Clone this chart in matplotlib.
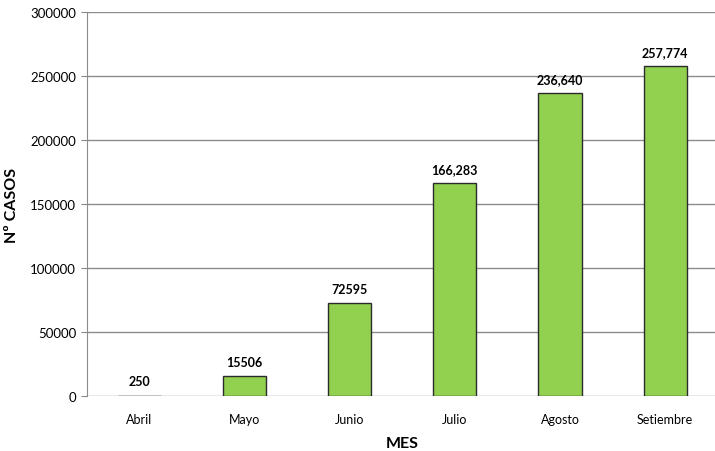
import matplotlib.pyplot as plt

meses = ['Abril', 'Mayo', 'Junio', 'Julio', 'Agosto', 'Setiembre']
casos = [250, 15506, 72595, 166283, 236640, 257774]
etiquetas = ['250', '15506', '72595', '166,283', '236,640', '257,774']

plt.rcParams['font.family'] = ['Lato', 'DejaVu Sans']

fig = plt.figure(figsize=(7.15, 4.52), dpi=100)
ax = fig.add_axes([0.121, 0.122, 0.883, 0.849])

x = range(len(meses))
ax.bar(x, casos, width=0.41, color='#92D050', edgecolor='#2b2b2b', linewidth=1, zorder=3)
for i, (v, t) in enumerate(zip(casos, etiquetas)):
    ax.text(i, v + 6500, t, ha='center', va='bottom', fontsize=9, fontweight='bold', color='black')

ax.set_xlim(-0.5, len(meses) - 0.5)
ax.set_ylim(0, 300000)
ax.set_yticks(range(0, 300001, 50000))
ax.set_xticks(list(x))
ax.set_xticklabels(meses, fontsize=9)
ax.tick_params(axis='y', labelsize=9.5, length=4, color='#888888')
ax.tick_params(axis='x', length=0, pad=12)
ax.yaxis.grid(True, color='#8c8c8c', linewidth=1, zorder=0)
for s in ['top', 'right', 'bottom']:
    ax.spines[s].set_visible(False)
ax.spines['left'].set_color('#8c8c8c')

ax.set_xlabel('MES', fontsize=11.5, fontweight='bold', labelpad=8)
ax.set_ylabel('Nº CASOS', fontsize=11.5, fontweight='bold', labelpad=8)

plt.savefig('out.png', dpi=100)
